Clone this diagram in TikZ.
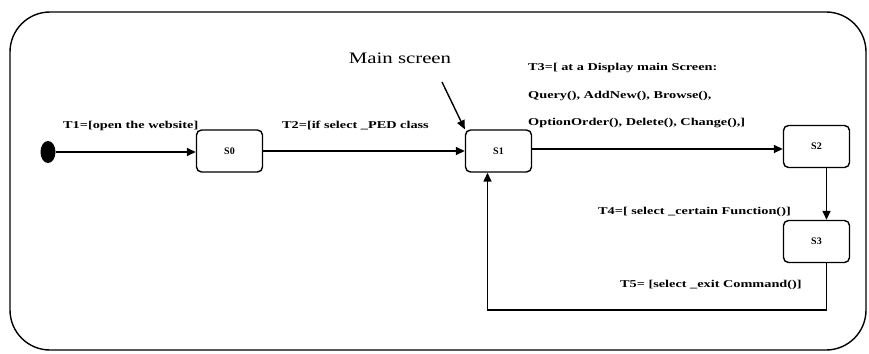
\documentclass[tikz,border=0pt]{standalone}
\usepackage{fontspec}
\usepackage{graphicx}
\setmainfont{Liberation Serif}
\usetikzlibrary{arrows.meta,shapes.geometric}
\newcommand{\wide}[1]{\scalebox{1.36}[1]{#1}}
\begin{document}
\begin{tikzpicture}[x=1pt,y=-1pt,
  state/.style={draw,line width=1.4pt,rounded corners=5pt,minimum width=66pt,minimum height=42pt,inner sep=0pt,font=\bfseries\fontsize{10}{12}\selectfont},
  trans/.style={line width=1.5pt,-{Triangle[length=9pt,width=8pt]}},
  lbl/.style={font=\bfseries\fontsize{10.5}{12}\selectfont,inner sep=0pt,anchor=west}]
\useasboundingbox (0,0) rectangle (869,353);
\node[draw,line width=1.4pt,rounded corners=40pt,minimum width=856pt,minimum height=338pt,inner sep=0pt] (frame) at (438,181) {};
\node[ellipse,fill=black,minimum width=15pt,minimum height=22pt,inner sep=0pt] (init) at (48,152) {};
\node[state] (s0) at (229.5,151) {S0};
\node[state] (s1) at (498.5,151) {S1};
\node[state] (s2) at (816.5,146.5) {S2};
\node[state] (s3) at (816.5,241.5) {S3};
\draw[trans] (init) -- (s0.west |- init);
\draw[trans] (s0) -- (s1);
\draw[trans] (s1.east |- 0,149) -- (s2.west |- 0,149);
\draw[trans] ([xshift=10pt]s2.south) -- ([xshift=10pt]s3.north);
\draw[trans] ([xshift=10pt]s3.south) -- ++(0,47) -| ([xshift=-11pt]s1.south);
\node[font=\fontsize{16}{18}\selectfont,inner sep=0pt] (main) at (400,58) {\scalebox{1.3}[1]{Main screen}};
\coordinate (mainend) at (442,82);
\draw[line width=1.4pt,-{Triangle[length=9pt,width=8pt]}] (mainend) -- (s1.north west);
\node[lbl] (t1) at (63,126) {\wide{T1=[open the website]}};
\node[lbl] (t2) at (282,126) {\wide{T2=[if select \_PED class}};
\node[lbl] (t3a) at (528,68) {\wide{T3=[ at a Display main Screen:}};
\node[lbl] (t3b) at (528,96) {\wide{Query(), AddNew(), Browse(),}};
\node[lbl] (t3c) at (528,123) {\wide{OptionOrder(), Delete(), Change(),]}};
\node[lbl] (t4) at (598,212) {\wide{T4=[ select \_certain Function()]}};
\node[lbl] (t5) at (620,285) {\wide{T5= [select \_exit Command()]}};
\end{tikzpicture}
\end{document}
